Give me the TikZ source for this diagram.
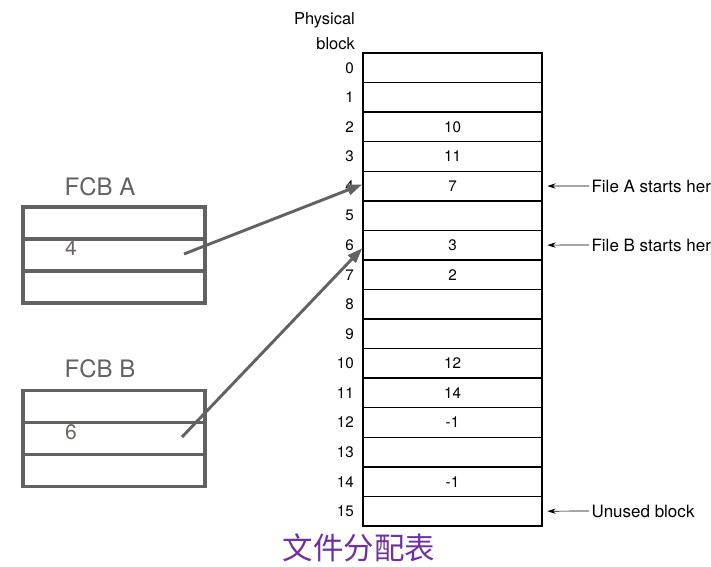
\documentclass[tikz,border=0pt]{standalone}
\usepackage{fontspec}
\setmainfont{TeX Gyre Heros}
\newfontfamily\cjkfont{Noto Sans CJK SC}
\usetikzlibrary{arrows.meta}
\definecolor{fcbgray}{HTML}{626262}
\definecolor{titlepurple}{HTML}{7030A0}

\begin{document}
\begin{tikzpicture}[x=0.03cm, y=-0.03cm,
    cellbox/.style={draw, line width=1.2pt, minimum width=5.37cm, minimum height=0.887cm,
        inner sep=0pt, font=\fontsize{13}{15}\selectfont},
    rowlabel/.style={anchor=east, inner sep=0pt, font=\fontsize{13}{15}\selectfont},
    fcbbox/.style={draw=fcbgray, line width=2.6pt, minimum width=5.46cm, minimum height=0.96cm, inner sep=0pt},
    fcbtitle/.style={text=fcbgray, font=\fontsize{20.5}{24}\selectfont},
    fcbvalue/.style={text=fcbgray!90!brown, font=\fontsize{18}{22}\selectfont},
    pointer/.style={fcbgray, line width=2.5pt, -{Triangle[length=13pt, width=9pt]}},
    note/.style={anchor=west, inner sep=2pt, font=\fontsize{14.5}{17}\selectfont},
    notearrow/.style={->, >={Stealth[length=7pt, width=4.5pt]}, line width=0.6pt, shorten >=4pt}]
    \useasboundingbox (0,0) rectangle (711,566);

    % --- Physical block table ---
    \node[anchor=east, align=right, inner sep=0pt, font=\fontsize{14}{21}\selectfont]
        (phys) at (355,31) {Physical\\block};
    \foreach \i/\v in {0/,1/,2/10,3/11,4/7,5/,6/3,7/2,8/,9/,10/12,11/14,12/-1,13/,14/-1,15/} {
        \pgfmathsetmacro\y{53+(\i+0.5)*29.5625}
        \node[cellbox] (c\i) at (452.5,\y) {\v};
        \node[rowlabel] (n\i) at (354,\y) {\i};
    }

    % --- FCB A ---
    \node[fcbtitle] (fcbAname) at (100,187) {FCB A};
    \foreach \k in {1,2,3} {
        \node[fcbbox] (fcbA\k) at (114,{207+(\k-0.5)*32}) {};
    }
    \node[fcbvalue] (ptrA) at (71,248) {4};
    \coordinate (ptrAstart) at (184,254);

    % --- FCB B ---
    \node[fcbtitle] (fcbBname) at (100,369) {FCB B};
    \foreach \k in {1,2,3} {
        \node[fcbbox] (fcbB\k) at (114,{390+(\k-0.5)*32.3}) {};
    }
    \node[fcbvalue] (ptrB) at (71,432) {6};
    \coordinate (ptrBstart) at (182,437);

    % --- pointers into the table ---
    \draw[pointer] (ptrAstart) -- ([yshift=0.05cm]c4.west);
    \draw[pointer] (ptrBstart) -- ([yshift=-0.09cm]c6.west);

    % --- notes on the right ---
    \node[note] (noteA) at (589,186) {File A starts her};
    \node[note] (noteB) at (589,245) {File B starts her};
    \node[note] (noteU) at (589,511) {Unused block};
    \draw[notearrow] (noteA.west) -- (c4.east);
    \draw[notearrow] (noteB.west) -- (c6.east);
    \draw[notearrow] (noteU.west) -- (c15.east);

    % --- caption ---
    \node[text=titlepurple, font=\cjkfont\fontsize{26}{28}\selectfont] (caption) at (359,548) {文件分配表};
\end{tikzpicture}
\end{document}
